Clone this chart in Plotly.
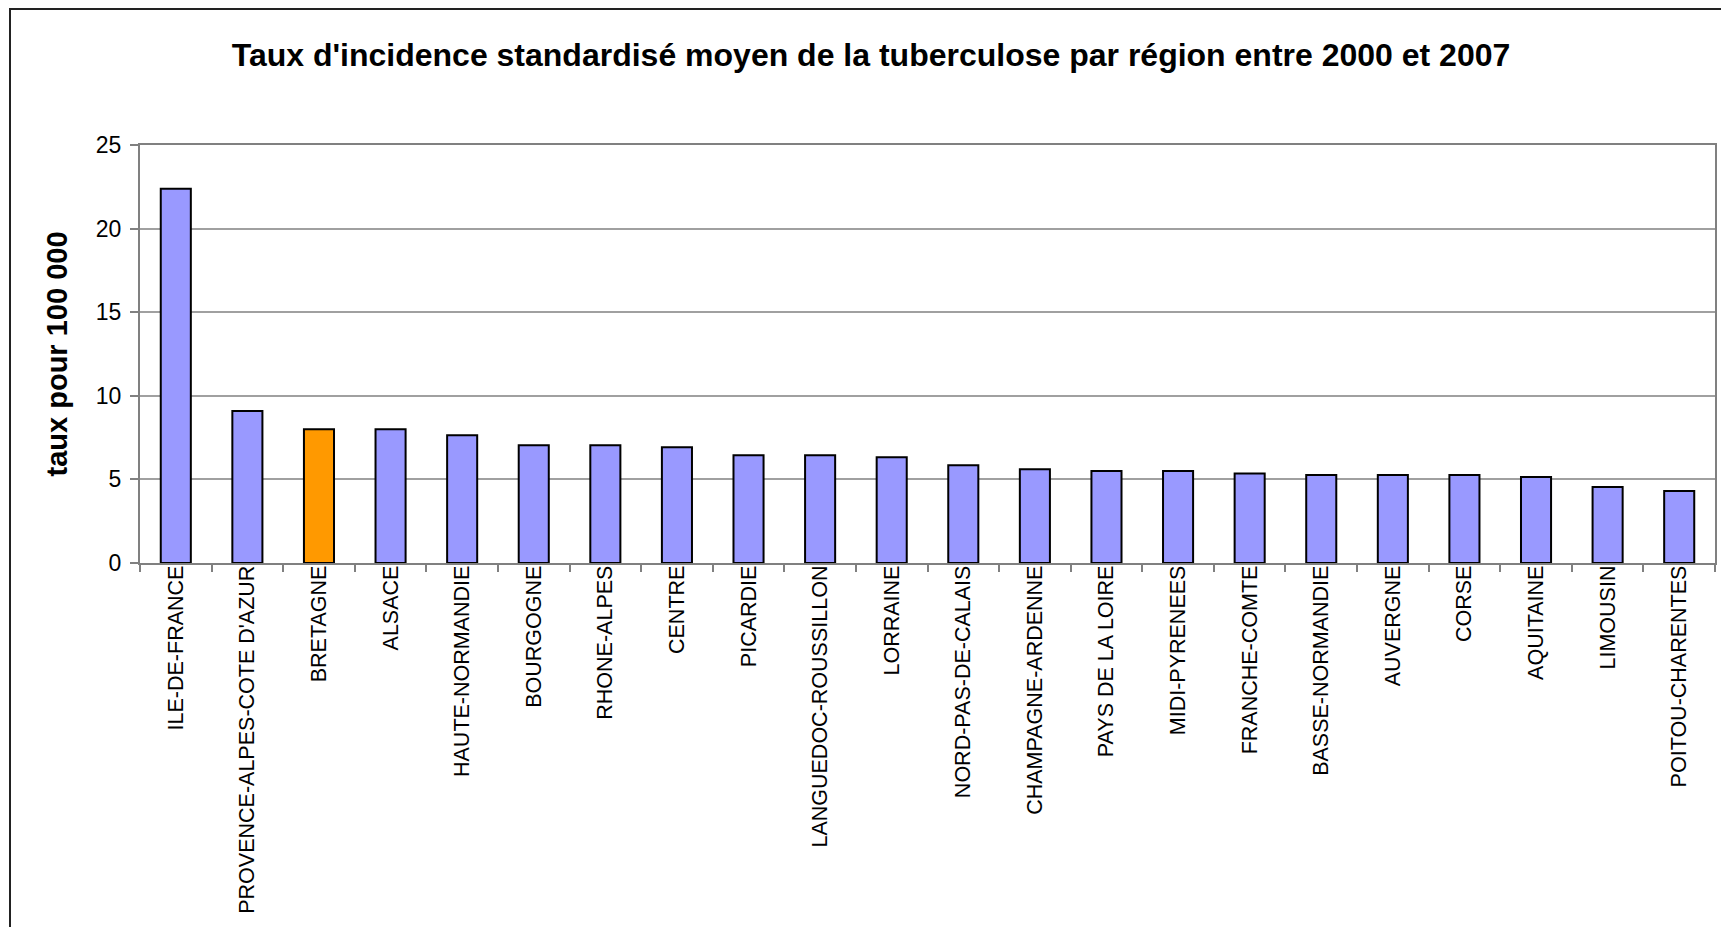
import plotly.graph_objects as go

regions = ["ILE-DE-FRANCE", "PROVENCE-ALPES-COTE D'AZUR", "BRETAGNE", "ALSACE",
           "HAUTE-NORMANDIE", "BOURGOGNE", "RHONE-ALPES", "CENTRE", "PICARDIE",
           "LANGUEDOC-ROUSSILLON", "LORRAINE", "NORD-PAS-DE-CALAIS",
           "CHAMPAGNE-ARDENNE", "PAYS DE LA LOIRE", "MIDI-PYRENEES",
           "FRANCHE-COMTE", "BASSE-NORMANDIE", "AUVERGNE", "CORSE", "AQUITAINE",
           "LIMOUSIN", "POITOU-CHARENTES"]
taux = [22.38, 9.09, 8.0, 8.0, 7.64, 7.04, 7.04, 6.92, 6.45, 6.45, 6.33, 5.85,
        5.6, 5.5, 5.5, 5.36, 5.26, 5.26, 5.26, 5.14, 4.54, 4.31]
highlight = "BRETAGNE"
y_ticks = [0, 5, 10, 15, 20, 25]

W, H = 1721, 927
L, R, T, B = 140, 6, 145, 364

colors = ["#FF9900" if r == highlight else "#9999FF" for r in regions]

fig = go.Figure(go.Bar(
    x=regions, y=taux,
    marker=dict(color=colors, line=dict(color="#000000", width=2)),
    width=0.42,
))

pw = W - L - R
ph = H - T - B
fig.add_shape(type="rect", xref="paper", yref="paper",
              x0=(10 - L) / pw, x1=1.2, y0=-1.5, y1=(H - B - 9) / ph,
              line=dict(color="#222222", width=2), fillcolor="rgba(0,0,0,0)",
              layer="below")

fig.update_layout(
    width=W, height=H,
    margin=dict(l=L, r=R, t=T, b=B, autoexpand=False),
    paper_bgcolor="white", plot_bgcolor="white",
    font=dict(family="Liberation Sans, Arial, sans-serif", color="black"),
    title=dict(text="<b>Taux d'incidence standardisé moyen de la tuberculose par région entre 2000 et 2007</b>",
               x=871 / W, xanchor="center", xref="container",
               y=1 - 55 / H, yanchor="middle", yref="container",
               font=dict(size=32, color="black")),
    showlegend=False,
    bargap=0.58,
)
fig.update_xaxes(
    type="category", tickangle=-90, tickfont=dict(size=21.5),
    showline=True, linecolor="#808080", linewidth=2, mirror=True,
    ticks="outside", ticklen=7, tickcolor="#808080", tickwidth=1.5,
    tickson="boundaries", showgrid=False, automargin=False,
    ticklabelstandoff=-8,
)
fig.update_yaxes(
    range=[0, 25], tickvals=y_ticks, tickfont=dict(size=23),
    showline=True, linecolor="#808080", linewidth=2, mirror=True,
    ticks="outside", ticklen=8, tickcolor="#808080", tickwidth=1.5,
    showgrid=True, gridcolor="#a0a0a0", gridwidth=1.5, zeroline=False,
    ticklabelstandoff=4,
    title=dict(text="<b>taux pour 100 000</b>", font=dict(size=29), standoff=20),
    automargin=False,
)

fig.write_html("out.html", config={"displayModeBar": False},
               post_script="document.body.style.margin='0';document.body.style.overflow='hidden';")
